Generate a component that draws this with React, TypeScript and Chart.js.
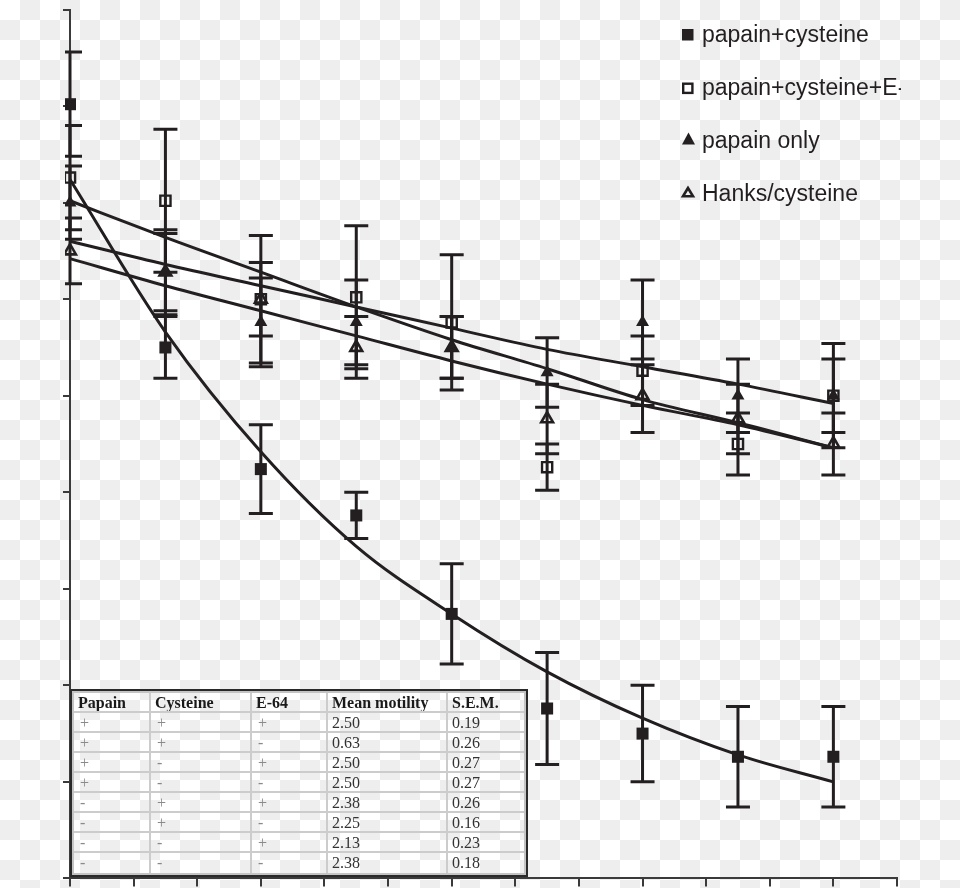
import React, { useEffect, useRef } from "react";
import { Chart, registerables } from "chart.js";

Chart.register(...registerables);

// ---- data ----
const TIMES = [0, 7.5, 15, 22.5, 30, 37.5, 45, 52.5, 60];
const X_MAX = 65;
const X_STEP = 5;
const Y_MAX = 4.5;
const Y_STEP = 0.5;

const PAPAIN_CYS = [4.01, 2.75, 2.12, 1.88, 1.37, 0.88, 0.75, 0.63, 0.63];
const PAPAIN_CYS_ERR = [0.27, 0.16, 0.23, 0.12, 0.26, 0.29, 0.25, 0.26, 0.26];
const PAPAIN_CYS_E64 = [3.63, 3.51, 3.0, 3.01, 2.88, 2.13, 2.63, 2.25, 2.5];
const PAPAIN_CYS_E64_ERR = [0.27, 0.37, 0.33, 0.37, 0.35, 0.12, 0.18, 0.16, 0.19];
const PAPAIN_ONLY = [3.5, 3.14, 2.88, 2.88, 2.75, 2.62, 2.88, 2.5, 2.5];
const PAPAIN_ONLY_ERR = [0.19, 0.22, 0.23, 0.22, 0.16, 0.18, 0.22, 0.19, 0.27];
const HANKS_CYS = [3.25, 3.14, 3.0, 2.75, 2.75, 2.38, 2.5, 2.38, 2.25];
const HANKS_CYS_ERR = [0.17, 0.2, 0.19, 0.16, 0.16, 0.18, 0.19, 0.18, 0.16];

// fitted curves
const FIT_PAPAIN_CYS = [3.62, 2.83, 2.21, 1.72, 1.37, 1.07, 0.83, 0.64, 0.5];
const FIT_PAPAIN_ONLY = [3.51, 3.32, 3.14, 2.96, 2.79, 2.64, 2.48, 2.36, 2.23];
const FIT_PAPAIN_CYS_E64 = [3.3, 3.18, 3.07, 2.96, 2.85, 2.74, 2.65, 2.56, 2.46];
const FIT_HANKS_CYS = [3.21, 3.07, 2.94, 2.81, 2.68, 2.56, 2.45, 2.35, 2.23];

const LEGEND_LABELS = [
  "papain+cysteine",
  "papain+cysteine+E-64",
  "papain only",
  "Hanks/cysteine",
];

const TABLE_HEAD = ["Papain", "Cysteine", "E-64", "Mean motility", "S.E.M."];
const TABLE_PAPAIN = ["+", "+", "+", "+", "-", "-", "-", "-"];
const TABLE_CYSTEINE = ["+", "+", "-", "-", "+", "+", "-", "-"];
const TABLE_E64 = ["+", "-", "+", "-", "+", "-", "+", "-"];
const TABLE_MEAN = ["2.50", "0.63", "2.50", "2.50", "2.38", "2.25", "2.13", "2.38"];
const TABLE_SEM = ["0.19", "0.26", "0.27", "0.27", "0.26", "0.16", "0.23", "0.18"];

const INK = "#231f20";
const AXIS = "#3a3a3a";

const pts = (ys: number[]) => TIMES.map((t, i) => ({ x: t, y: ys[i] }));

const errorBarPlugin = {
  id: "errorBars",
  beforeDatasetsDraw(chart: any) {
    const { ctx, chartArea, scales } = chart;
    const xs = scales.x;
    const ys = scales.y;
    ctx.save();
    ctx.beginPath();
    ctx.rect(chartArea.left - 5, 0, chart.width, chart.height);
    ctx.clip();
    ctx.strokeStyle = INK;
    ctx.lineWidth = 3;
    chart.data.datasets.forEach((ds: any, i: number) => {
      if (!ds.errors || !chart.isDatasetVisible(i)) return;
      ds.data.forEach((p: any, j: number) => {
        const e = ds.errors[j];
        const px = xs.getPixelForValue(p.x);
        const top = ys.getPixelForValue(p.y + e);
        const bot = ys.getPixelForValue(p.y - e);
        ctx.beginPath();
        ctx.moveTo(px, top);
        ctx.lineTo(px, bot);
        ctx.moveTo(px - 12, top);
        ctx.lineTo(px + 12, top);
        ctx.moveTo(px - 12, bot);
        ctx.lineTo(px + 12, bot);
        ctx.stroke();
      });
    });
    ctx.restore();
  },
};

const fitDs = (label: string, ys: number[]) => ({
  type: "line" as const,
  label,
  data: pts(ys),
  borderColor: INK,
  borderWidth: 3,
  pointRadius: 0,
  fill: false,
  cubicInterpolationMode: "monotone" as const,
  clip: false as const,
});

const CLIP = { left: 5, top: 20, right: 20, bottom: 20 };

function ChartCanvas() {
  const ref = useRef<HTMLCanvasElement>(null);
  useEffect(() => {
    if (!ref.current) return;
    const chart = new Chart(ref.current, {
      type: "scatter",
      data: {
        datasets: [
          {
            label: LEGEND_LABELS[0],
            data: pts(PAPAIN_CYS),
            errors: PAPAIN_CYS_ERR,
            pointStyle: "rect",
            pointRadius: 8.5,
            backgroundColor: INK,
            borderColor: INK,
            borderWidth: 0,
            clip: CLIP,
          } as any,
          {
            label: LEGEND_LABELS[1],
            data: pts(PAPAIN_CYS_E64),
            errors: PAPAIN_CYS_E64_ERR,
            pointStyle: "rect",
            pointRadius: 7.2,
            backgroundColor: "rgba(255,255,255,0)",
            borderColor: INK,
            borderWidth: 2.4,
            clip: CLIP,
          } as any,
          {
            label: LEGEND_LABELS[2],
            data: pts(PAPAIN_ONLY),
            errors: PAPAIN_ONLY_ERR,
            pointStyle: "triangle",
            pointRadius: 7.5,
            backgroundColor: INK,
            borderColor: INK,
            borderWidth: 0,
            clip: CLIP,
          } as any,
          {
            label: LEGEND_LABELS[3],
            data: pts(HANKS_CYS),
            errors: HANKS_CYS_ERR,
            pointStyle: "triangle",
            pointRadius: 6.8,
            backgroundColor: "rgba(255,255,255,0)",
            borderColor: INK,
            borderWidth: 2.6,
            clip: CLIP,
          } as any,
          fitDs("fit papain+cysteine", FIT_PAPAIN_CYS),
          fitDs("fit papain only", FIT_PAPAIN_ONLY),
          fitDs("fit papain+cysteine+E-64", FIT_PAPAIN_CYS_E64),
          fitDs("fit Hanks/cysteine", FIT_HANKS_CYS),
        ],
      },
      options: {
        responsive: false,
        animation: false,
        layout: { padding: { left: 0, top: 5, right: 63, bottom: 0 } },
        plugins: {
          legend: { display: false },
          tooltip: { enabled: false },
        },
        scales: {
          x: {
            type: "linear",
            min: 0,
            max: X_MAX,
            ticks: { display: false, stepSize: X_STEP },
            grid: {
              drawOnChartArea: false,
              drawTicks: true,
              tickLength: 8,
              color: AXIS,
              lineWidth: 2,
            },
            border: { display: true, color: AXIS, width: 2 },
            afterFit: (s: any) => {
              s.height = 8;
            },
          },
          y: {
            type: "linear",
            min: 0,
            max: Y_MAX,
            ticks: { display: false, stepSize: Y_STEP },
            grid: {
              drawOnChartArea: false,
              drawTicks: true,
              tickLength: 7,
              color: AXIS,
              lineWidth: 2,
            },
            border: { display: true, color: AXIS, width: 2 },
            afterFit: (s: any) => {
              s.width = 70;
            },
          },
        },
      } as any,
      plugins: [errorBarPlugin],
    });
    return () => chart.destroy();
  }, []);
  return (
    <canvas
      ref={ref}
      width={960}
      height={888}
      style={{ position: "absolute", left: 0, top: 0, width: 960, height: 888 }}
    />
  );
}

function Legend() {
  const tops = [21.2, 74, 126.8, 179.6];
  return (
    <div
      style={{
        position: "absolute",
        left: 0,
        top: 0,
        width: 901,
        height: 230,
        overflow: "hidden",
        pointerEvents: "none",
      }}
    >
      <svg
        width={901}
        height={230}
        style={{ position: "absolute", left: 0, top: 0 }}
      >
        <rect x={682} y={29} width={11.5} height={11.5} fill={INK} />
        <rect
          x={683.2}
          y={83.7}
          width={9.2}
          height={9.2}
          fill="none"
          stroke={INK}
          strokeWidth={2.4}
        />
        <polygon points="688.5,132.5 682,144.5 695,144.5" fill={INK} />
        <polygon
          points="688,188 683,196.3 693,196.3"
          fill="none"
          stroke={INK}
          strokeWidth={2.6}
          strokeLinejoin="miter"
        />
      </svg>
      {LEGEND_LABELS.map((t, i) => (
        <div
          key={t}
          style={{
            position: "absolute",
            left: 702,
            top: tops[i],
            font: "23px 'Liberation Sans', Arial, sans-serif",
            lineHeight: "26px",
            color: INK,
            whiteSpace: "nowrap",
          }}
        >
          {t}
        </div>
      ))}
    </div>
  );
}

function DataTable() {
  const widths = [77, 101, 76, 120, 76];
  const rows = TABLE_MEAN.map((m, i) => [
    TABLE_PAPAIN[i],
    TABLE_CYSTEINE[i],
    TABLE_E64[i],
    m,
    TABLE_SEM[i],
  ]);
  const all = [TABLE_HEAD, ...rows];
  return (
    <div
      style={{
        position: "absolute",
        left: 70,
        top: 689,
        width: 458,
        height: 188,
        boxSizing: "border-box",
        border: "2px solid #2a2a2a",
      }}
    >
      <div
        style={{
          width: "100%",
          height: "100%",
          boxSizing: "border-box",
          border: "2px solid #c4c4c4",
        }}
      >
        {all.map((r, ri) => (
          <div
            key={ri}
            style={{
              display: "flex",
              height: 20,
              boxSizing: "border-box",
              borderBottom: ri < all.length - 1 ? "2px solid #cccccc" : "none",
            }}
          >
            {r.map((c, ci) => {
              const sign = ri > 0 && ci < 3;
              return (
                <div
                  key={ci}
                  style={{
                    width: widths[ci],
                    flex: "none",
                    boxSizing: "border-box",
                    borderRight: ci < 4 ? "2px solid #cccccc" : "none",
                    paddingLeft: sign ? 6 : 4,
                    font: `${ri === 0 ? "bold " : ""}16px 'Liberation Serif', 'Times New Roman', serif`,
                    lineHeight: "19px",
                    color: sign ? "#8a8a8a" : ri === 0 ? "#1a1a1a" : "#333333",
                    whiteSpace: "nowrap",
                    overflow: "hidden",
                  }}
                >
                  {c}
                </div>
              );
            })}
          </div>
        ))}
      </div>
    </div>
  );
}

export default function App() {
  return (
    <div
      style={{
        position: "absolute",
        left: 0,
        top: 0,
        width: 960,
        height: 888,
        overflow: "hidden",
        background:
          "conic-gradient(#eeeeee 25%, #ffffff 0 50%, #eeeeee 0 75%, #ffffff 0) 0 0 / 40px 40px",
      }}
    >
      <ChartCanvas />
      <DataTable />
      <Legend />
    </div>
  );
}
